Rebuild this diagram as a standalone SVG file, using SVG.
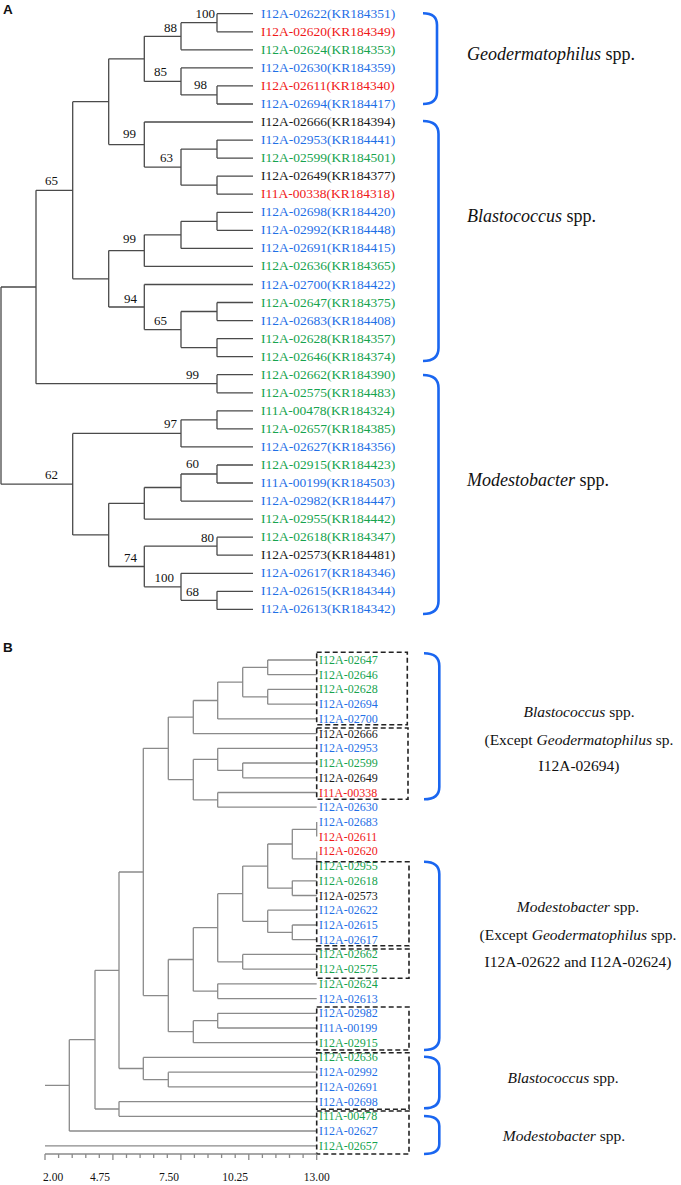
<svg xmlns="http://www.w3.org/2000/svg" width="681" height="1185" viewBox="0 0 681 1185">
<style>
text{font-family:"Liberation Serif","Times New Roman",serif}
.t{stroke:#4a4a4a;stroke-width:1.3;fill:none}
.tb{stroke:#8a8a8a;stroke-width:1.3;fill:none}
.la{font-size:13.5px}
.lb{font-size:12px}
.bl{fill:#1f6fe6}.rd{fill:#f01818}.gr{fill:#16a34e}.bk{fill:#1a1a1a}
.bs{font-size:13px;fill:#111}
.br{stroke:#1a66f0;stroke-width:2.6;fill:none}
.box{stroke:#222;stroke-width:1.6;stroke-dasharray:5 3;fill:none}
.grp{font-size:18px;fill:#111}
.grpb{font-size:15.5px;fill:#111;text-anchor:middle}
.ax{font-size:11.5px;fill:#111}
.pl{font-family:"Liberation Sans",Arial,sans-serif;font-weight:bold;font-size:13.5px;fill:#111}
</style>
<rect width="681" height="1185" fill="#fff"/>
<text class="pl" x="3" y="13.5">A</text>
<text class="pl" x="3" y="652">B</text>

<g id="connectors">
<path class="t" d="M217,13.7H253M217,31.8H253M181,49.8H253M181,67.9H253M217,85.9H253M217,104H253M144.3,122H253M217,140.1H253M217,158.1H253M217,176.2H253M217,194.2H253M217,212.3H253M217,230.3H253M181,248.4H253M144.3,266.4H253M144.3,284.5H253M217,302.5H253M217,320.6H253M217,338.6H253M217,356.7H253M217,374.7H253M217,392.8H253M217,410.8H253M217,428.9H253M181,446.9H253M217,465H253M217,483H253M181,501.1H253M144.3,519.1H253M217,537.2H253M217,555.2H253M181,573.3H253M217,591.3H253M217,609.4H253"/>
<path class="t" d="M217,13.7V31.8M181,22.7H217M181,22.7V49.8M144.3,36.3H181M217,85.9V104M181,94.9H217M181,67.9V94.9M144.3,81.4H181M144.3,36.3V81.4M108.7,58.8H144.3M217,140.1V158.1M181,149.1H217M217,176.2V194.2M181,185.2H217M181,149.1V185.2M144.3,167.1H181M144.3,122V167.1M108.7,144.6H144.3M108.7,58.8V144.6M72.7,101.7H108.7M217,212.3V230.3M181,221.3H217M181,221.3V248.4M144.3,234.8H181M144.3,234.8V266.4M108.7,250.6H144.3M217,302.5V320.6M181,311.5H217M217,338.6V356.7M181,347.6H217M181,311.5V347.6M144.3,329.6H181M144.3,284.5V329.6M108.7,307H144.3M108.7,250.6V307M72.7,278.8H108.7M72.7,101.7V278.8M36,190.3H72.7M217,374.7V392.8M36,383.7H217M36,190.3V383.7M1,287H36M217,410.8V428.9M181,419.8H217M181,419.8V446.9M72.7,433.4H181M217,465V483M181,474H217M181,474V501.1M144.3,487.5H181M144.3,487.5V519.1M108.7,503.3H144.3M217,537.2V555.2M144.3,546.2H217M217,591.3V609.4M181,600.3H217M181,573.3V600.3M144.3,586.8H181M144.3,546.2V586.8M108.7,566.5H144.3M108.7,503.3V566.5M72.7,534.9H108.7M72.7,433.4V534.9M1,484.2H72.7M1,287V484.2"/>
<path class="tb" d="M267.7,660H316.7M267.7,674.7H316.7M267.7,689.4H316.7M267.7,704.2H316.7M217.7,718.9H316.7M193.3,733.6H316.7M217.7,748.3H316.7M242.7,763H316.7M242.7,777.8H316.7M217.7,792.5H316.7M217.7,807.2H316.7M316.7,821.9V836.6M292.3,829.3H316.7M316.7,851.4V866.1M292.3,858.8H316.7M292.3,880.8H316.7M292.3,895.5H316.7M267.7,910.2H316.7M292.3,925H316.7M292.3,939.7H316.7M242.7,954.4H316.7M242.7,969.1H316.7M217.7,983.8H316.7M217.7,998.6H316.7M217.7,1013.3H316.7M217.7,1028H316.7M193.3,1042.7H316.7M143.3,1057.4H316.7M168.3,1072.2H316.7M168.3,1086.9H316.7M119,1101.6H316.7M119,1116.3H316.7M69.3,1131H316.7M45,1145.8H316.7"/>
<path class="tb" d="M267.7,660V674.7M242.7,667.4H267.7M267.7,689.4V704.2M242.7,696.8H267.7M242.7,667.4V696.8M217.7,682.1H242.7M217.7,682.1V718.9M193.3,700.5H217.7M193.3,700.5V733.6M168.3,717.1H193.3M242.7,763V777.8M217.7,770.4H242.7M217.7,748.3V770.4M193.3,759.4H217.7M217.7,792.5V807.2M193.3,799.9H217.7M193.3,759.4V799.9M168.3,779.6H193.3M168.3,717.1V779.6M143.3,748.3H168.3M292.3,829.3V858.8M267.7,844H292.3M292.3,880.8V895.5M267.7,888.2H292.3M267.7,844V888.2M242.7,866.1H267.7M292.3,925V939.7M267.7,932.4H292.3M267.7,910.2V932.4M242.7,921.3H267.7M242.7,866.1V921.3M217.7,893.7H242.7M242.7,954.4V969.1M217.7,961.8H242.7M217.7,893.7V961.8M193.3,927.7H217.7M217.7,983.8V998.6M193.3,991.2H217.7M193.3,927.7V991.2M168.3,959.5H193.3M217.7,1013.3V1028M193.3,1020.7H217.7M193.3,1020.7V1042.7M168.3,1031.7H193.3M168.3,959.5V1031.7M143.3,995.6H168.3M143.3,748.3V995.6M119,872H143.3M168.3,1072.2V1086.9M143.3,1079.6H168.3M143.3,1057.4V1079.6M119,1068.5H143.3M119,872V1068.5M95,970.3H119M119,1101.6V1116.3M95,1109H119M95,970.3V1109M69.3,1039.7H95M69.3,1039.7V1131M45,1085.3H69.3"/>
</g>

<g id="bootstrap-a">
<text class="bs" x="215" y="18" text-anchor="end">100</text>
<text class="bs" x="177" y="32" text-anchor="end">88</text>
<text class="bs" x="167" y="76" text-anchor="end">85</text>
<text class="bs" x="207" y="89" text-anchor="end">98</text>
<text class="bs" x="136" y="138" text-anchor="end">99</text>
<text class="bs" x="173" y="162" text-anchor="end">63</text>
<text class="bs" x="58" y="185" text-anchor="end">65</text>
<text class="bs" x="136" y="243" text-anchor="end">99</text>
<text class="bs" x="137" y="303" text-anchor="end">94</text>
<text class="bs" x="167" y="325" text-anchor="end">65</text>
<text class="bs" x="199" y="379" text-anchor="end">99</text>
<text class="bs" x="177" y="428" text-anchor="end">97</text>
<text class="bs" x="199" y="468" text-anchor="end">60</text>
<text class="bs" x="58" y="479" text-anchor="end">62</text>
<text class="bs" x="214" y="541.5" text-anchor="end">80</text>
<text class="bs" x="137" y="562" text-anchor="end">74</text>
<text class="bs" x="174" y="581.5" text-anchor="end">100</text>
<text class="bs" x="199" y="596" text-anchor="end">68</text>
</g>

<g id="leaves-a" class="la">
<g id="a0"><text class="bl" x="261" y="17.7">I12A-02622(KR184351)</text></g>
<g id="a1"><text class="rd" x="261" y="35.8">I12A-02620(KR184349)</text></g>
<g id="a2"><text class="gr" x="261" y="53.8">I12A-02624(KR184353)</text></g>
<g id="a3"><text class="bl" x="261" y="71.9">I12A-02630(KR184359)</text></g>
<g id="a4"><text class="rd" x="261" y="89.9">I12A-02611(KR184340)</text></g>
<g id="a5"><text class="bl" x="261" y="108">I12A-02694(KR184417)</text></g>
<g id="a6"><text class="bk" x="261" y="126">I12A-02666(KR184394)</text></g>
<g id="a7"><text class="bl" x="261" y="144.1">I12A-02953(KR184441)</text></g>
<g id="a8"><text class="gr" x="261" y="162.1">I12A-02599(KR184501)</text></g>
<g id="a9"><text class="bk" x="261" y="180.2">I12A-02649(KR184377)</text></g>
<g id="a10"><text class="rd" x="261" y="198.2">I11A-00338(KR184318)</text></g>
<g id="a11"><text class="bl" x="261" y="216.3">I12A-02698(KR184420)</text></g>
<g id="a12"><text class="bl" x="261" y="234.3">I12A-02992(KR184448)</text></g>
<g id="a13"><text class="bl" x="261" y="252.4">I12A-02691(KR184415)</text></g>
<g id="a14"><text class="gr" x="261" y="270.4">I12A-02636(KR184365)</text></g>
<g id="a15"><text class="bl" x="261" y="288.5">I12A-02700(KR184422)</text></g>
<g id="a16"><text class="gr" x="261" y="306.5">I12A-02647(KR184375)</text></g>
<g id="a17"><text class="bl" x="261" y="324.6">I12A-02683(KR184408)</text></g>
<g id="a18"><text class="gr" x="261" y="342.6">I12A-02628(KR184357)</text></g>
<g id="a19"><text class="gr" x="261" y="360.7">I12A-02646(KR184374)</text></g>
<g id="a20"><text class="gr" x="261" y="378.7">I12A-02662(KR184390)</text></g>
<g id="a21"><text class="gr" x="261" y="396.8">I12A-02575(KR184483)</text></g>
<g id="a22"><text class="gr" x="261" y="414.8">I11A-00478(KR184324)</text></g>
<g id="a23"><text class="gr" x="261" y="432.9">I12A-02657(KR184385)</text></g>
<g id="a24"><text class="bl" x="261" y="450.9">I12A-02627(KR184356)</text></g>
<g id="a25"><text class="gr" x="261" y="469">I12A-02915(KR184423)</text></g>
<g id="a26"><text class="bl" x="261" y="487">I11A-00199(KR184503)</text></g>
<g id="a27"><text class="bl" x="261" y="505.1">I12A-02982(KR184447)</text></g>
<g id="a28"><text class="gr" x="261" y="523.1">I12A-02955(KR184442)</text></g>
<g id="a29"><text class="gr" x="261" y="541.2">I12A-02618(KR184347)</text></g>
<g id="a30"><text class="bk" x="261" y="559.2">I12A-02573(KR184481)</text></g>
<g id="a31"><text class="bl" x="261" y="577.3">I12A-02617(KR184346)</text></g>
<g id="a32"><text class="bl" x="261" y="595.3">I12A-02615(KR184344)</text></g>
<g id="a33"><text class="bl" x="261" y="613.4">I12A-02613(KR184342)</text></g>
</g>

<g id="groups-a">
<path class="br" d="M423,13.3Q437,13.3 437,25V92Q437,104 423,104"/>
<path class="br" d="M423,121Q438.5,121 438.5,134V348Q438.5,361 423,361"/>
<path class="br" d="M423,375Q438.5,375 438.5,388V601Q438.5,614 423,614"/>
<text class="grp" x="467" y="60"><tspan font-style="italic">Geodermatophilus</tspan> spp.</text>
<text class="grp" x="467" y="222"><tspan font-style="italic">Blastococcus</tspan> spp.</text>
<text class="grp" x="467" y="486"><tspan font-style="italic">Modestobacter</tspan> spp.</text>
</g>

<g id="leaves-b" class="lb">
<g id="b0"><text class="gr" x="319" y="664">I12A-02647</text></g>
<g id="b1"><text class="gr" x="319" y="678.7">I12A-02646</text></g>
<g id="b2"><text class="gr" x="319" y="693.4">I12A-02628</text></g>
<g id="b3"><text class="bl" x="319" y="708.2">I12A-02694</text></g>
<g id="b4"><text class="bl" x="319" y="722.9">I12A-02700</text></g>
<g id="b5"><text class="bk" x="319" y="737.6">I12A-02666</text></g>
<g id="b6"><text class="bl" x="319" y="752.3">I12A-02953</text></g>
<g id="b7"><text class="gr" x="319" y="767">I12A-02599</text></g>
<g id="b8"><text class="bk" x="319" y="781.8">I12A-02649</text></g>
<g id="b9"><text class="rd" x="319" y="796.5">I11A-00338</text></g>
<g id="b10"><text class="bl" x="319" y="811.2">I12A-02630</text></g>
<g id="b11"><text class="bl" x="319" y="825.9">I12A-02683</text></g>
<g id="b12"><text class="rd" x="319" y="840.6">I12A-02611</text></g>
<g id="b13"><text class="rd" x="319" y="855.4">I12A-02620</text></g>
<g id="b14"><text class="gr" x="319" y="870.1">I12A-02955</text></g>
<g id="b15"><text class="gr" x="319" y="884.8">I12A-02618</text></g>
<g id="b16"><text class="bk" x="319" y="899.5">I12A-02573</text></g>
<g id="b17"><text class="bl" x="319" y="914.2">I12A-02622</text></g>
<g id="b18"><text class="bl" x="319" y="929">I12A-02615</text></g>
<g id="b19"><text class="bl" x="319" y="943.7">I12A-02617</text></g>
<g id="b20"><text class="gr" x="319" y="958.4">I12A-02662</text></g>
<g id="b21"><text class="gr" x="319" y="973.1">I12A-02575</text></g>
<g id="b22"><text class="gr" x="319" y="987.8">I12A-02624</text></g>
<g id="b23"><text class="bl" x="319" y="1002.6">I12A-02613</text></g>
<g id="b24"><text class="bl" x="319" y="1017.3">I12A-02982</text></g>
<g id="b25"><text class="bl" x="319" y="1032">I11A-00199</text></g>
<g id="b26"><text class="gr" x="319" y="1046.7">I12A-02915</text></g>
<g id="b27"><text class="gr" x="319" y="1061.4">I12A-02636</text></g>
<g id="b28"><text class="bl" x="319" y="1076.2">I12A-02992</text></g>
<g id="b29"><text class="bl" x="319" y="1090.9">I12A-02691</text></g>
<g id="b30"><text class="bl" x="319" y="1105.6">I12A-02698</text></g>
<g id="b31"><text class="gr" x="319" y="1120.3">I11A-00478</text></g>
<g id="b32"><text class="bl" x="319" y="1135">I12A-02627</text></g>
<g id="b33"><text class="gr" x="319" y="1149.8">I12A-02657</text></g>
</g>

<g id="boxes-b">
<rect class="box" x="316.7" y="652.3" width="90.6" height="72.4"/>
<rect class="box" x="316.7" y="728" width="91.3" height="71.3"/>
<rect class="box" x="316.7" y="861.7" width="92.3" height="84"/>
<rect class="box" x="316.7" y="949" width="92.3" height="29.3"/>
<rect class="box" x="316.7" y="1007" width="92.3" height="43"/>
<rect class="box" x="316.7" y="1052.7" width="92.3" height="56.6"/>
<rect class="box" x="316.7" y="1111" width="92.3" height="43"/>
</g>

<g id="groups-b">
<path class="br" d="M424,653.3Q439.3,653.3 439.3,666V787Q439.3,799.3 424,799.3"/>
<path class="br" d="M424,861.7Q439.3,861.7 439.3,874V1038Q439.3,1050 424,1050"/>
<path class="br" d="M424,1056.7Q439.3,1056.7 439.3,1068V1097Q439.3,1108.3 424,1108.3"/>
<path class="br" d="M424,1116Q439.3,1116 439.3,1126V1144Q439.3,1154 424,1154"/>
<text class="grpb" x="579" y="717"><tspan font-style="italic">Blastococcus</tspan> spp.</text>
<text class="grpb" x="579" y="745">(Except <tspan font-style="italic">Geodermatophilus</tspan> sp.</text>
<text class="grpb" x="579" y="771">I12A-02694)</text>
<text class="grpb" x="578" y="912"><tspan font-style="italic">Modestobacter</tspan> spp.</text>
<text class="grpb" x="578" y="940">(Except <tspan font-style="italic">Geodermatophilus</tspan> spp.</text>
<text class="grpb" x="578" y="967">I12A-02622 and I12A-02624)</text>
<text class="grpb" x="563" y="1083"><tspan font-style="italic">Blastococcus</tspan> spp.</text>
<text class="grpb" x="564" y="1141"><tspan font-style="italic">Modestobacter</tspan> spp.</text>
</g>

<g id="axis-b">
<path class="tb" d="M45,1154H316.7M45,1154v6M58.6,1154v4M72.2,1154v4M85.8,1154v4M99.3,1154v4M112.9,1154v6M126.5,1154v4M140.1,1154v4M153.7,1154v4M167.3,1154v4M180.9,1154v6M194.4,1154v4M208,1154v4M221.6,1154v4M235.2,1154v4M248.8,1154v6M262.4,1154v4M275.9,1154v4M289.5,1154v4M303.1,1154v4M316.7,1154v6"/>
<text class="ax" x="43" y="1181">2.00</text>
<text class="ax" x="110" y="1181" text-anchor="end">4.75</text>
<text class="ax" x="179" y="1181" text-anchor="end">7.50</text>
<text class="ax" x="248" y="1181" text-anchor="end">10.25</text>
<text class="ax" x="316.7" y="1181" text-anchor="middle">13.00</text>
</g>
</svg>
